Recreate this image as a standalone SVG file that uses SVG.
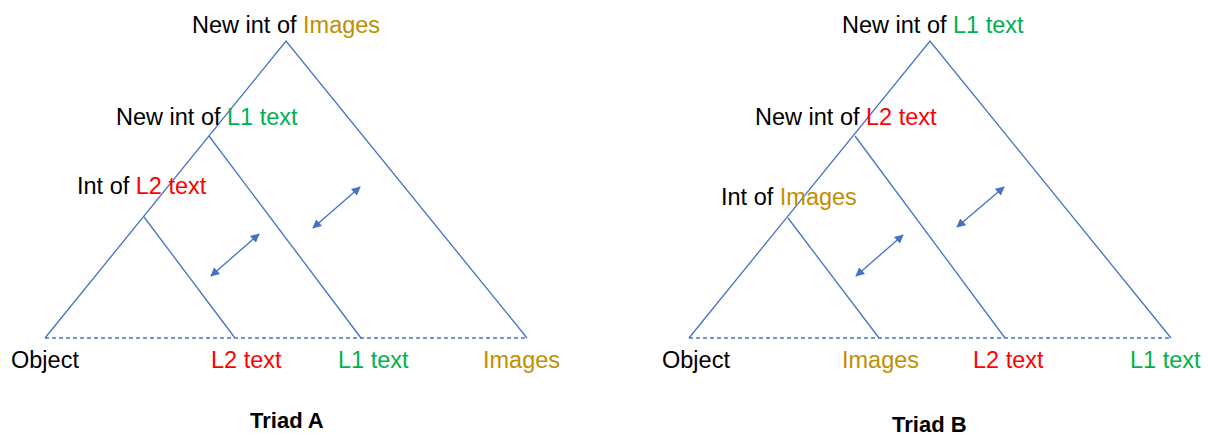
<svg xmlns="http://www.w3.org/2000/svg" width="1208" height="436" viewBox="0 0 1208 436">
<style>
text{font-family:"Liberation Sans",Arial,sans-serif;font-size:23.5px;fill:#000}
.t{font-weight:bold;font-size:22px}
.g{fill:#BF9000}.gr{fill:#00B050}.r{fill:#FF0000}
.ln{stroke:#4472C4;stroke-width:1.3;fill:none}
.d{stroke-dasharray:4 3}
.ar{stroke:#4472C4;stroke-width:1.3;fill:none;marker-start:url(#ah);marker-end:url(#ah)}
</style>
<defs>
<marker id="ah" viewBox="0 0 10 10" refX="9" refY="5" markerWidth="9" markerHeight="9" markerUnits="userSpaceOnUse" orient="auto-start-reverse">
<path d="M0,0 L10,5 L0,10 z" fill="#4472C4"/>
</marker>
</defs>
<rect width="1208" height="436" fill="#fff"/>
<g id="triadA">
<g id="A-shape">
<path class="ln" d="M45,338 L286,41 L527,338"/>
<path class="ln" d="M209,136 L361,338"/>
<path class="ln" d="M144,217 L235,338"/>
<path class="ln d" d="M45,338 L527,338"/>
</g>
<g id="A-top"><text x="192" y="33">New int of <tspan class="g">Images</tspan></text></g>
<g id="A-mid"><text x="116" y="125">New int of <tspan class="gr">L1 text</tspan></text></g>
<g id="A-low"><text x="77" y="194">Int of <tspan class="r">L2 text</tspan></text></g>
<g id="A-object"><text x="11" y="368">Object</text></g>
<g id="A-l2"><text class="r" x="211" y="368">L2 text</text></g>
<g id="A-l1"><text class="gr" x="338" y="368">L1 text</text></g>
<g id="A-images"><text class="g" x="483" y="368">Images</text></g>
<g id="A-title"><text class="t" x="250" y="428">Triad A</text></g>
</g>
<g id="triadB">
<g id="B-shape">
<path class="ln" d="M689,338 L930,41 L1171,338"/>
<path class="ln" d="M855,136 L1005,338"/>
<path class="ln" d="M788,218 L879,338"/>
<path class="ln d" d="M689,338 L1171,338"/>
</g>
<g id="B-top"><text x="842" y="33">New int of <tspan class="gr">L1 text</tspan></text></g>
<g id="B-mid"><text x="755" y="125">New int of <tspan class="r">L2 text</tspan></text></g>
<g id="B-low"><text x="721" y="205">Int of <tspan class="g">Images</tspan></text></g>
<g id="B-object"><text x="662" y="368">Object</text></g>
<g id="B-images"><text class="g" x="842" y="368">Images</text></g>
<g id="B-l2"><text class="r" x="973" y="368">L2 text</text></g>
<g id="B-l1"><text class="gr" x="1130" y="368">L1 text</text></g>
<g id="B-title"><text class="t" x="892" y="432">Triad B</text></g>
</g>
<g id="connectors">
<line class="ar" x1="211" y1="276" x2="259" y2="234"/>
<line class="ar" x1="313" y1="228" x2="360" y2="187"/>
<line class="ar" x1="856" y1="276" x2="903" y2="235"/>
<line class="ar" x1="957" y1="227" x2="1004" y2="187"/>
</g>
</svg>
